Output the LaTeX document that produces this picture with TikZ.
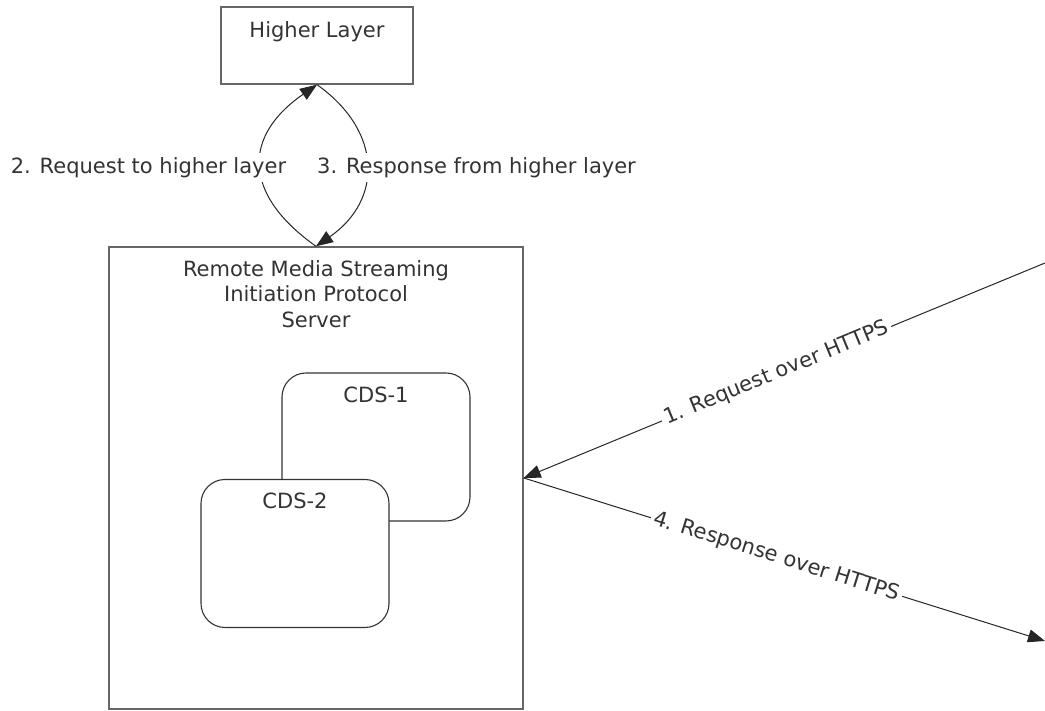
\documentclass[tikz,border=0pt]{standalone}
\usepackage{fontspec}
\setmainfont{DejaVu Sans}
\usetikzlibrary{positioning,arrows.meta}

\begin{document}
\begin{tikzpicture}[
            x = 1pt, y = 1pt,
            every node/.style={text=black!80, font=\fontsize{21}{25.5}\selectfont},
            box/.style={draw=black!60, line width=1.4pt},
            cds/.style={draw=black!80, line width=1.1pt, fill=white, rounded corners=24pt, minimum width=188pt, minimum height=148pt},
            title/.style={inner sep=0pt, align=center},
            msg/.style={draw=black!85, line width=1pt, -{Triangle[length=17pt,width=13pt]}},
            lbl/.style={fill=white, inner xsep=3pt, inner ysep=4pt},
            ]
        \useasboundingbox (0,0) rectangle (1045,711);
        % boxes
        \node[box, minimum width=192pt, minimum height=77pt] (hl) at (317,665.5) {};
        \node[title, below=15pt of hl.north] (hltitle) {Higher Layer};
        \node[box, minimum width=414pt, minimum height=462pt] (srv) at (316,233) {};
        \node[title, below=14pt of srv.north] (srvtitle) {Remote Media Streaming\\Initiation Protocol\\Server};
        \node[cds] (cdsa) at (376,264) {};
        \node[title, below=14pt of cdsa.north] (cdsatitle) {CDS-1};
        \node[cds] (cdsb) at (295,157.5) {};
        \node[title, below=14pt of cdsb.north] (cdsbtitle) {CDS-2};
        % higher layer exchange
        \draw[msg] (srv.north) to[bend left=55, looseness=1.43] (hl.south);
        \draw[msg] (hl.south) to[bend left=55, looseness=1.28] (srv.north);
        \node[lbl] (reqhl) at (148.5,543.5) {2. Request to higher layer};
        \node[lbl] (reshl) at (476.5,543.5) {3. Response from higher layer};
        % client side
        \coordinate (cin) at (1045,448);
        \coordinate (cout) at (1045,70);
        \draw[msg] (cin) -- node[lbl, sloped, pos=0.515] (reqhttps) {1. Request over HTTPS} (srv.east);
        \draw[msg] (srv.east) -- node[lbl, sloped, pos=0.485] (reshttps) {4. Response over HTTPS} (cout);
    \end{tikzpicture}
\end{document}
